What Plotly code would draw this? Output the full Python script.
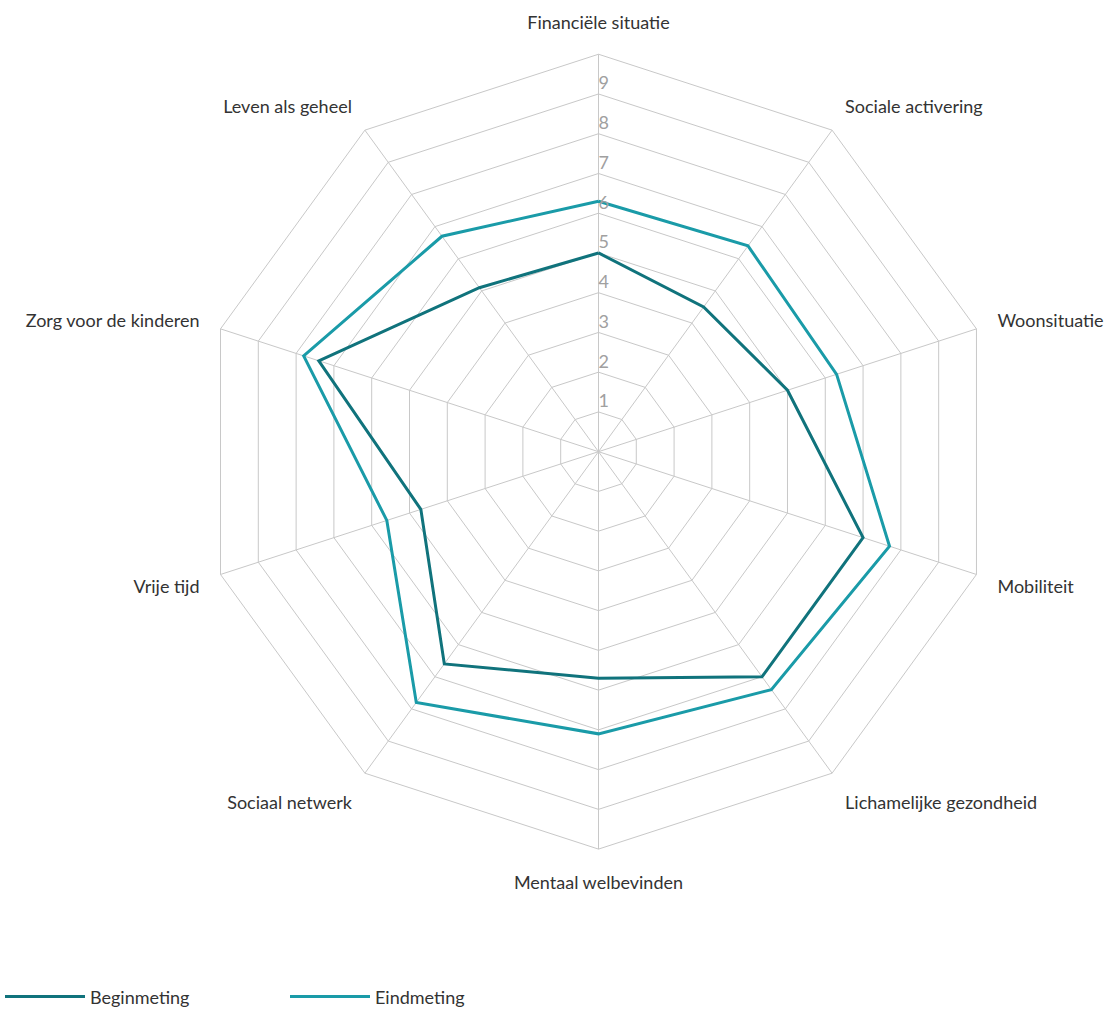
import plotly.graph_objects as go

categories = ["Financiële situatie", "Sociale activering", "Woonsituatie", "Mobiliteit",
              "Lichamelijke gezondheid", "Mentaal welbevinden", "Sociaal netwerk",
              "Vrije tijd", "Zorg voor de kinderen", "Leven als geheel"]
begin_vals = [5.0, 4.5, 5.0, 7.0, 7.0, 5.7, 6.6, 4.7, 7.4, 5.1]
eind_vals = [6.3, 6.4, 6.3, 7.7, 7.4, 7.1, 7.8, 5.6, 7.8, 6.7]
tick_vals = [1, 2, 3, 4, 5, 6, 7, 8, 9]
tick_text = [str(v) for v in tick_vals]

C_BEGIN = "#10737c"
C_EIND = "#1a9ba8"
GRID = "#c8c8c8"
FONT = "Lato"

fig = go.Figure()
fig.add_trace(go.Scatterpolar(
    r=begin_vals + begin_vals[:1], theta=categories + categories[:1],
    mode="lines", name="Beginmeting", line=dict(color=C_BEGIN, width=3)))
fig.add_trace(go.Scatterpolar(
    r=eind_vals + eind_vals[:1], theta=categories + categories[:1],
    mode="lines", name="Eindmeting", line=dict(color=C_EIND, width=3)))
fig.add_trace(go.Scatterpolar(
    r=tick_vals, theta=[categories[0]] * len(tick_vals), text=tick_text,
    mode="text", textposition="top right", showlegend=False, hoverinfo="skip",
    textfont=dict(family=FONT, size=18, color="#a0a0a0")))

fig.update_layout(
    width=1117, height=1010,
    margin=dict(l=0, r=0, t=0, b=0, autoexpand=False),
    paper_bgcolor="white", plot_bgcolor="white",
    font=dict(family=FONT, size=18, color="#333333"),
    polar=dict(
        domain=dict(x=[0.180, 0.8916], y=[0.1593, 0.9463]),
        bgcolor="white",
        gridshape="linear",
        radialaxis=dict(range=[0, 10], dtick=1, showticklabels=False, ticks="",
                        gridcolor=GRID, gridwidth=1, showline=False, angle=90),
        angularaxis=dict(direction="clockwise", rotation=90, gridcolor=GRID,
                         showline=True, linecolor=GRID, linewidth=1,
                         ticks="outside", ticklen=18, tickcolor="rgba(0,0,0,0)",
                         tickfont=dict(family=FONT, size=18, color="#333333")),
    ),
    legend=dict(orientation="h", x=0, y=0.013, xanchor="left", yanchor="middle",
                itemwidth=80, entrywidth=190,
                font=dict(family=FONT, size=18, color="#333333")),
)

fig.write_html("out.html")
